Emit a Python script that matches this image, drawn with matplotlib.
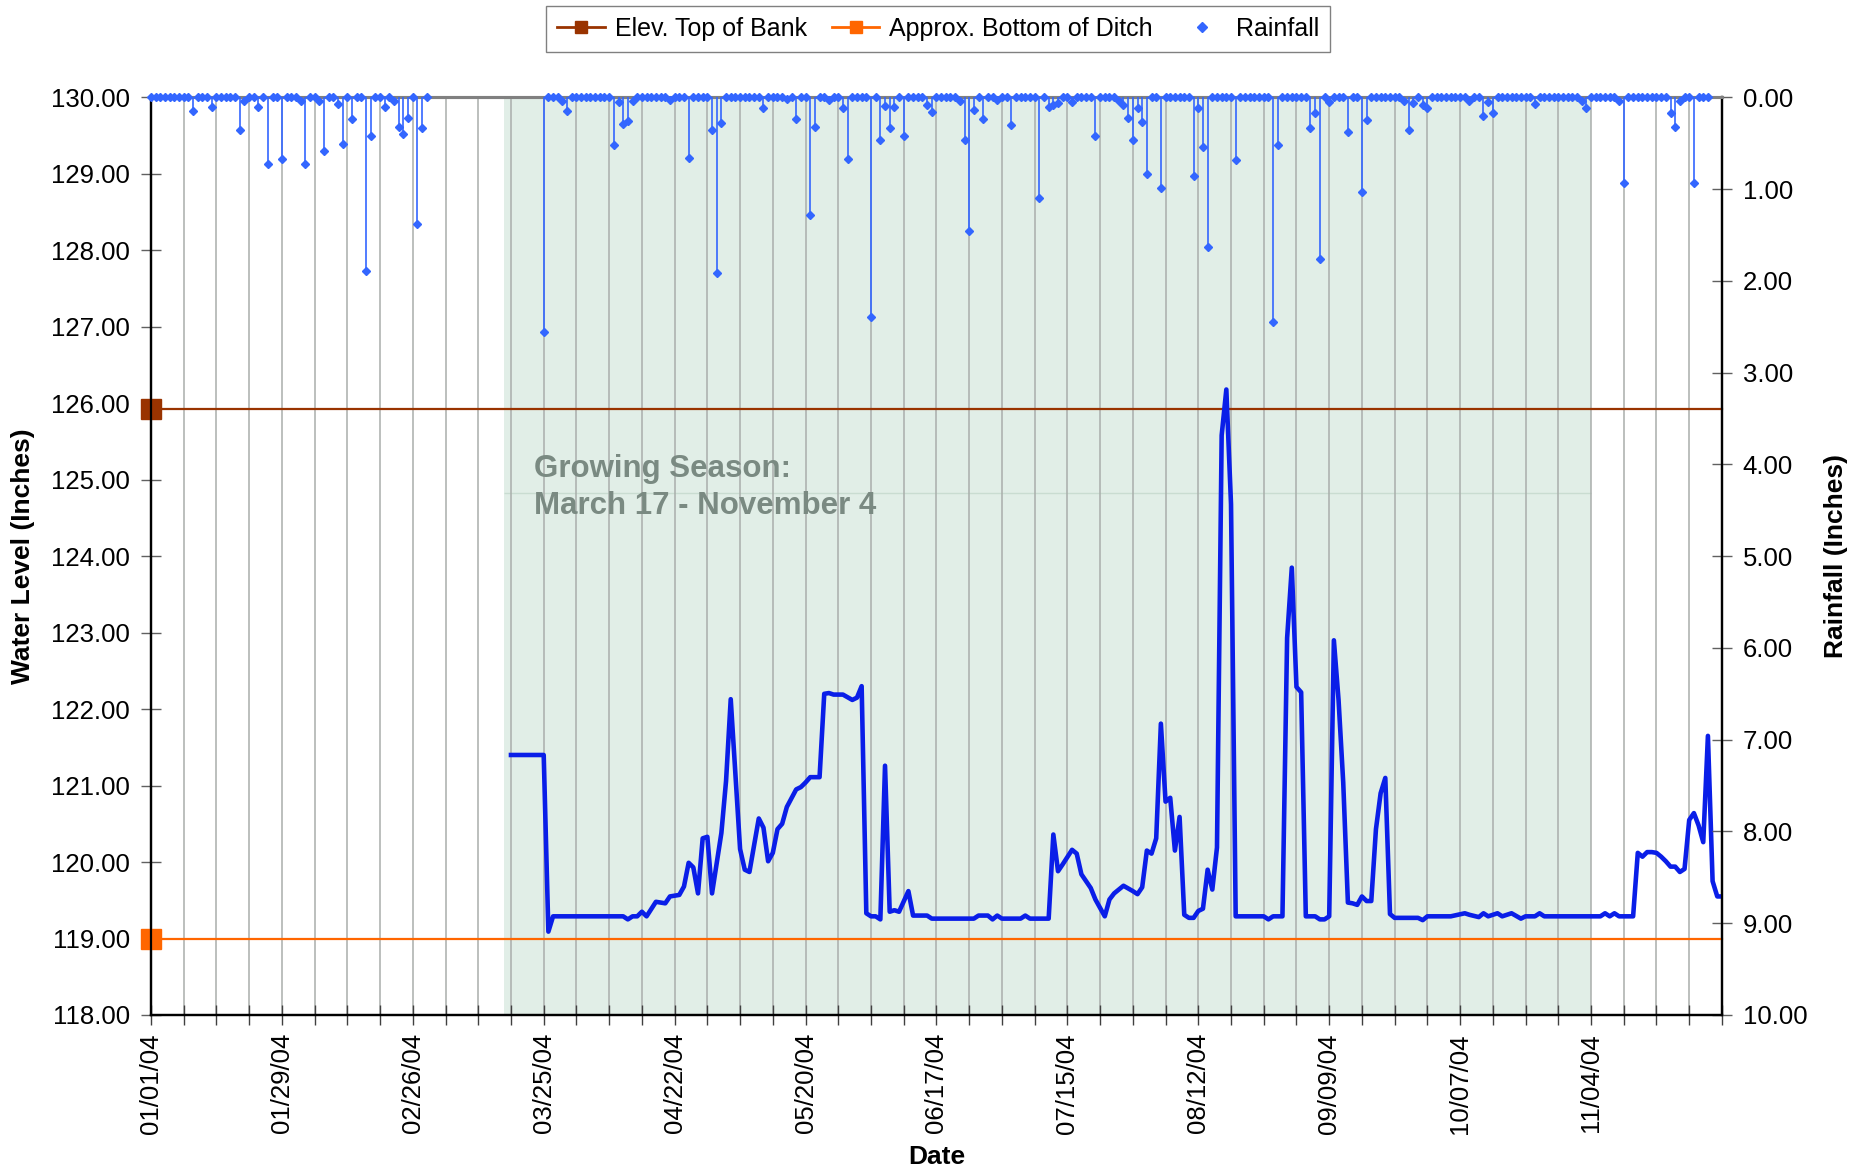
import pandas as pd
import matplotlib.pyplot as plt
import numpy as np
from matplotlib.lines import Line2D

plt.rcParams['font.family'] = ['Liberation Sans', 'DejaVu Sans']

start = pd.Timestamp('2004-01-01')
axis_end = pd.Timestamp('2004-12-02')

# Water level readings: (days after 01/01/04, level in inches)
water_level = [
    (77, 121.40), (84, 121.40), (85, 119.09), (86, 119.29), (101, 119.29),
    (102, 119.25), (103, 119.29), (104, 119.29), (105, 119.35), (106, 119.29),
    (108, 119.48), (110, 119.46), (111, 119.55), (113, 119.57), (114, 119.68),
    (115, 119.99), (116, 119.93), (117, 119.59), (118, 120.31), (119, 120.33),
    (120, 119.59), (122, 120.38), (123, 121.06), (124, 122.13), (126, 120.17),
    (127, 119.90), (128, 119.87), (130, 120.57), (131, 120.45), (132, 120.01),
    (133, 120.12), (134, 120.43), (135, 120.50), (136, 120.72), (138, 120.95),
    (139, 120.98), (140, 121.04), (141, 121.11), (143, 121.11), (144, 122.20),
    (145, 122.21), (146, 122.19), (148, 122.19), (150, 122.12), (151, 122.15),
    (152, 122.30), (153, 119.33), (154, 119.29), (155, 119.29), (156, 119.25),
    (157, 121.26), (158, 119.35), (159, 119.37), (160, 119.35), (162, 119.62),
    (163, 119.30), (166, 119.30), (167, 119.26), (176, 119.26), (177, 119.30),
    (179, 119.30), (180, 119.25), (181, 119.30), (182, 119.26), (186, 119.26),
    (187, 119.30), (188, 119.26), (192, 119.26), (193, 120.36), (194, 119.88),
    (195, 119.97), (197, 120.16), (198, 120.11), (199, 119.84), (201, 119.66),
    (202, 119.51), (204, 119.29), (205, 119.51), (206, 119.59), (208, 119.69),
    (210, 119.62), (211, 119.58), (212, 119.67), (213, 120.15), (214, 120.11),
    (215, 120.31), (216, 121.81), (217, 120.79), (218, 120.84), (219, 120.15),
    (220, 120.59), (221, 119.31), (222, 119.27), (223, 119.27), (224, 119.36),
    (225, 119.39), (226, 119.90), (227, 119.64), (228, 120.19), (229, 125.58),
    (230, 126.18), (231, 124.68), (232, 119.29), (238, 119.29), (239, 119.25),
    (240, 119.29), (242, 119.29), (243, 122.93), (244, 123.85), (245, 122.29),
    (246, 122.22), (247, 119.29), (249, 119.29), (250, 119.25), (251, 119.25),
    (252, 119.29), (253, 122.90), (254, 122.12), (255, 121.04), (256, 119.47),
    (257, 119.46), (258, 119.44), (259, 119.55), (260, 119.49), (261, 119.49),
    (262, 120.43), (263, 120.90), (264, 121.10), (265, 119.32), (266, 119.27),
    (271, 119.27), (272, 119.24), (273, 119.29), (278, 119.29), (281, 119.33),
    (282, 119.31), (284, 119.28), (285, 119.33), (286, 119.29), (288, 119.33),
    (289, 119.29), (291, 119.33), (293, 119.26), (294, 119.29), (296, 119.29),
    (297, 119.33), (298, 119.29), (310, 119.29), (311, 119.33), (312, 119.29),
    (313, 119.33), (314, 119.29), (317, 119.29), (318, 120.12), (319, 120.07),
    (320, 120.13), (321, 120.13), (322, 120.12), (323, 120.07), (324, 120.01),
    (325, 119.94), (326, 119.94), (327, 119.87), (328, 119.91), (329, 120.55),
    (330, 120.64), (331, 120.48), (332, 120.26), (333, 121.65), (334, 119.75),
    (335, 119.55), (336, 119.55),
]

# Rainfall was logged daily over these periods; all other logged days were 0.00
rain_periods = [('2004-01-01', '2004-02-29'), ('2004-03-25', '2004-11-29')]

# Rain days: (days after 01/01/04, inches)
rain_events = [
    (9, 0.15), (13, 0.10), (19, 0.36), (20, 0.04), (23, 0.10), (25, 0.73),
    (28, 0.67), (32, 0.04), (33, 0.73), (36, 0.04), (37, 0.585), (40, 0.07),
    (41, 0.505), (43, 0.24), (46, 1.89), (47, 0.425), (50, 0.105), (52, 0.04),
    (53, 0.32), (54, 0.40), (55, 0.225), (57, 1.375), (58, 0.33),
    (84, 2.56), (88, 0.04), (89, 0.15), (99, 0.52), (100, 0.05), (101, 0.29),
    (102, 0.26), (103, 0.04), (111, 0.03), (115, 0.655), (120, 0.35),
    (121, 1.91), (122, 0.28), (131, 0.11), (136, 0.02), (138, 0.23),
    (141, 1.28), (142, 0.32), (145, 0.03), (148, 0.11), (149, 0.67),
    (154, 2.39), (156, 0.465), (157, 0.09), (158, 0.335), (159, 0.10),
    (161, 0.425), (166, 0.08), (167, 0.16), (173, 0.04), (174, 0.46),
    (175, 1.455), (176, 0.135), (178, 0.24), (181, 0.03), (184, 0.305),
    (190, 1.10), (192, 0.10), (193, 0.08), (194, 0.06), (197, 0.05),
    (202, 0.425), (207, 0.04), (208, 0.08), (209, 0.225), (210, 0.46),
    (211, 0.115), (212, 0.27), (213, 0.83), (216, 0.99), (223, 0.855),
    (224, 0.11), (225, 0.54), (226, 1.625), (232, 0.685), (240, 2.45),
    (241, 0.515), (248, 0.33), (249, 0.175), (250, 1.765), (252, 0.05),
    (256, 0.375), (259, 1.03), (260, 0.245), (268, 0.04), (269, 0.35),
    (270, 0.06), (272, 0.08), (273, 0.12), (282, 0.04), (285, 0.20),
    (286, 0.05), (287, 0.17), (296, 0.07), (306, 0.04), (307, 0.12),
    (314, 0.04), (315, 0.93), (325, 0.165), (326, 0.325), (327, 0.04),
    (330, 0.935),
]

top_of_bank = 125.92
bottom_of_ditch = 119.00
season_start = pd.Timestamp('2004-03-16 12:00')
season_end = pd.Timestamp('2004-11-04')

# ---- build series
wl_days, wl_vals = zip(*water_level)
wl_dates = start + pd.to_timedelta(wl_days, unit='D')

rain = pd.concat([pd.Series(0.0, index=pd.date_range(a, b)) for a, b in rain_periods])
ev_days, ev_vals = zip(*rain_events)
ev_dates = start + pd.to_timedelta(ev_days, unit='D')
rain.loc[ev_dates] = ev_vals

# ---- figure
fig = plt.figure(figsize=(18.66, 11.75), dpi=100)
ax = fig.add_axes([0.0809, 0.1362, 0.8419, 0.7809])
ax2 = ax.twinx()

ax.set_xlim(start, axis_end)
ax.set_ylim(118, 130)
ax2.set_ylim(10, 0)

# growing season shading
ax.axvspan(season_start, season_end, color='#e1eee7', zorder=0, lw=0)
ax.hlines(124.82, season_start, season_end, color='#c9dcd1', lw=1, zorder=0.2)

# ticks / grid
major = pd.date_range(start, '2004-11-04', freq='28D')
minor = pd.date_range(start, axis_end, freq='7D')
ax.set_xticks(major)
ax.set_xticks(minor, minor=True)
ax.set_xticklabels([d.strftime('%m/%d/%y') for d in major])
ax.set_axisbelow(True)
ax.grid(which='both', axis='x', color='#a9aeab', lw=1.1)
ax.tick_params(axis='x', which='both', direction='inout', length=14, width=1,
               color='#404040', labelsize=18.5, labelrotation=90, pad=6)

ax.set_yticks(np.arange(118, 131, 1))
ax.yaxis.set_major_formatter('{x:.2f}')
ax.tick_params(axis='y', direction='inout', length=14, width=1, color='#606060',
               labelsize=18.5, pad=8)
ax2.set_yticks(np.arange(0, 11, 1))
ax2.yaxis.set_major_formatter('{x:.2f}')
ax2.tick_params(axis='y', direction='inout', length=14, width=1, color='#606060',
                labelsize=18.5, pad=8)

for a in (ax, ax2):
    for side in ('left', 'right', 'bottom'):
        a.spines[side].set_color('black')
        a.spines[side].set_linewidth(1.6)
    a.spines['top'].set_color('#808080')
    a.spines['top'].set_linewidth(2.2)

# reference elevations
ax.plot([start, axis_end], [top_of_bank] * 2, color='#993300', lw=1.6,
        marker='s', ms=14, markevery=[0], clip_on=False, zorder=4)
ax.plot([start, axis_end], [bottom_of_ditch] * 2, color='#ff6600', lw=1.6,
        marker='s', ms=14, markevery=[0], clip_on=False, zorder=4)

# water level
ax.plot(wl_dates, wl_vals, color='#0a1ee8', lw=3.3, zorder=5, solid_joinstyle='round')

# rainfall
ax2.vlines(ev_dates, 0, ev_vals, color='#3366ff', lw=1.2, zorder=3)
ax2.plot(rain.index, rain.values, ls='none', marker='D', ms=4.3,
         color='#3366ff', clip_on=False, zorder=4)

ax.text(pd.Timestamp('2004-03-23'), 125.33, 'Growing Season:\nMarch 17 - November 4',
        fontsize=22.5, fontweight='bold', color='#7a8a82', va='top', ha='left',
        linespacing=1.3, zorder=2)

ax.set_ylabel('Water Level (Inches)', fontsize=19, fontweight='bold')
ax.yaxis.set_label_coords(-0.074, 0.5)
ax2.set_ylabel('Rainfall (Inches)', fontsize=19, fontweight='bold', rotation=90)
ax2.yaxis.set_label_coords(1.065, 0.5)
ax.set_xlabel('Date', fontsize=19, fontweight='bold')
ax.xaxis.set_label_coords(0.5, -0.142)

handles = [
    Line2D([], [], color='#993300', lw=2, marker='s', ms=9),
    Line2D([], [], color='#ff6600', lw=2, marker='s', ms=9),
    Line2D([], [], ls='none', marker='D', color='#3366ff', ms=5),
]
fig.legend(handles, ['Elev. Top of Bank', 'Approx. Bottom of Ditch', 'Rainfall'],
           loc='upper center', bbox_to_anchor=(0.5027, 0.995), ncol=3, fontsize=18,
           frameon=True, fancybox=False, edgecolor='#606060', handlelength=1.9,
           handletextpad=0.4, columnspacing=1.0, borderpad=0.45, borderaxespad=0)

fig.savefig('out.png', dpi=100)
